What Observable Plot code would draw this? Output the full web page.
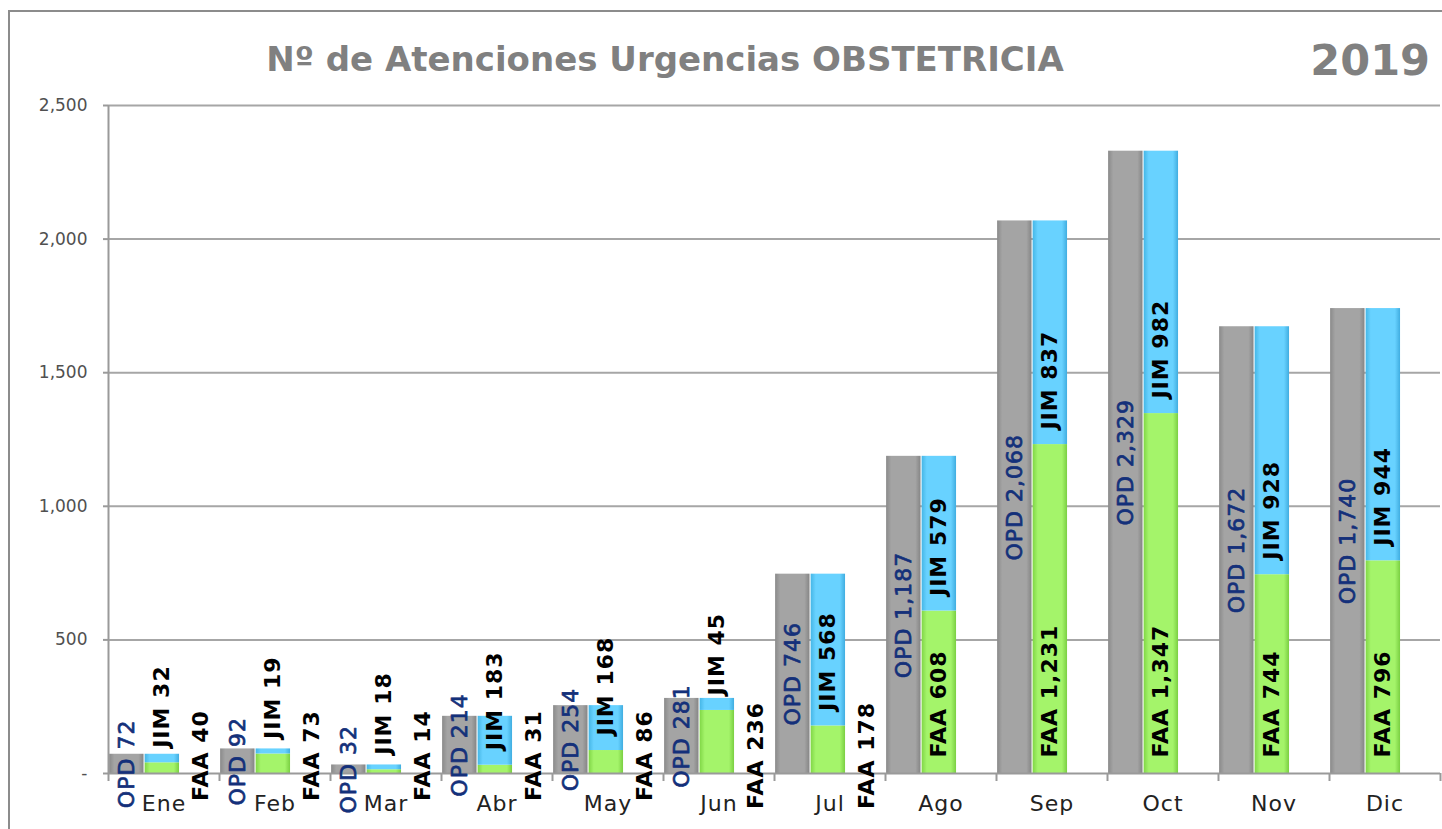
<!DOCTYPE html>
<html><head><meta charset="utf-8">
<script src="https://cdn.jsdelivr.net/npm/d3@7"></script>
<script src="https://cdn.jsdelivr.net/npm/@observablehq/plot@0.6"></script>
<style>
html,body{margin:0;padding:0;background:#fff;overflow:hidden;width:1442px;height:829px;font-family:"DejaVu Sans",sans-serif}
#frame{position:absolute;left:8px;top:10px;width:1500px;height:900px;border:2px solid #8c8c8c;box-sizing:border-box}
#title{position:absolute;left:0;width:1330px;top:42px;text-align:center;font-weight:bold;font-size:34px;line-height:34px;color:#808080;white-space:nowrap}
#year{position:absolute;right:12px;top:39px;font-weight:bold;font-size:43px;line-height:43px;color:#808080}
#chart{position:absolute;left:0;top:0}
</style>
</head><body>
<svg width="0" height="0" style="position:absolute">
  <defs>
    <linearGradient id="gGray" x1="0" x2="1" y1="0" y2="0">
      <stop offset="0" stop-color="#8a8a8a"/><stop offset="0.15" stop-color="#a4a4a4"/>
      <stop offset="0.85" stop-color="#a4a4a4"/><stop offset="1" stop-color="#858585"/>
    </linearGradient>
    <linearGradient id="gBlue" x1="0" x2="1" y1="0" y2="0">
      <stop offset="0" stop-color="#45b6e6"/><stop offset="0.15" stop-color="#68d2ff"/>
      <stop offset="0.85" stop-color="#68d2ff"/><stop offset="1" stop-color="#40ade0"/>
    </linearGradient>
    <linearGradient id="gGreen" x1="0" x2="1" y1="0" y2="0">
      <stop offset="0" stop-color="#80d646"/><stop offset="0.15" stop-color="#a4f46a"/>
      <stop offset="0.85" stop-color="#a4f46a"/><stop offset="1" stop-color="#7acf42"/>
    </linearGradient>
  </defs>
</svg>
<div id="frame"></div>
<div id="title">Nº de Atenciones Urgencias OBSTETRICIA</div>
<div id="year">2019</div>
<div id="chart"></div>
<script>
const months = ["Ene","Feb","Mar","Abr","May","Jun","Jul","Ago","Sep","Oct","Nov","Dic"];
const OPD = [72, 92, 32, 214, 254, 281, 746, 1187, 2068, 2329, 1672, 1740];
const JIM = [32, 19, 18, 183, 168, 45, 568, 579, 837, 982, 928, 944];
const FAA = [40, 73, 14, 31, 86, 236, 178, 608, 1231, 1347, 744, 796];
const yTicks = [0, 500, 1000, 1500, 2000, 2500];

const rows = months.map((m, i) => ({i, month: m, opd: OPD[i], jim: JIM[i], faa: FAA[i]}));
const fmt = d3.format(",");
const navy = "#14307a";
const FONT = "DejaVu Sans";
const insideMin = 400; // FAA label fits inside the green segment above this value

const chart = Plot.plot({
  width: 1442,
  height: 829,
  marginTop: 105,
  marginBottom: 56,
  marginLeft: 108,
  marginRight: 2,
  style: {fontFamily: FONT, background: "transparent"},
  x: {domain: [0, 12]},
  y: {domain: [0, 2500]},
  marks: [
    Plot.ruleY(yTicks.filter(d => d > 0), {stroke: "#a6a6a6", strokeWidth: 2}),
    Plot.rectY(rows, {x1: d => d.i + 0.01, x2: d => d.i + 0.32, y1: 0, y2: "opd", fill: "url(#gGray)"}),
    Plot.rectY(rows, {x1: d => d.i + 0.33, x2: d => d.i + 0.64, y1: 0, y2: "faa", fill: "url(#gGreen)"}),
    Plot.rectY(rows, {x1: d => d.i + 0.33, x2: d => d.i + 0.64, y1: "faa", y2: d => d.faa + d.jim, fill: "url(#gBlue)"}),
    Plot.ruleY([0], {stroke: "#9a9a9a", strokeWidth: 2}),
    Plot.ruleX([0], {stroke: "#9a9a9a", strokeWidth: 2}),
    Plot.axisX(d3.range(13), {tickSize: 8, tickFormat: () => "", stroke: "#9a9a9a", strokeWidth: 2}),
    Plot.axisY(yTicks, {tickSize: 5, tickPadding: 16, tickFormat: d => d === 0 ? "-" : fmt(d), stroke: "#9a9a9a", strokeWidth: 2, fill: "#505050", fontSize: 17, label: null}),
    Plot.text(rows, {x: d => d.i + 0.5, y: 0, dy: 30, text: "month", fontSize: 22, fill: "#222", lineAnchor: "middle", className: "sp"}),
    // OPD labels
    Plot.text(rows, {x: d => d.i + 0.165, y: d => d.opd / 2, text: d => "OPD " + fmt(d.opd), rotate: -90, textAnchor: "middle", lineAnchor: "middle", fill: navy, stroke: navy, strokeWidth: 0.7, fontSize: 22, className: "sp"}),
    // JIM labels
    Plot.text(rows, {x: d => d.i + 0.485, y: "faa", dy: -15, text: d => "JIM " + fmt(d.jim), rotate: -90, textAnchor: "start", lineAnchor: "middle", fill: "#000", fontWeight: "bold", fontSize: 22, className: "sp"}),
    // FAA labels inside
    Plot.text(rows.filter(d => d.faa >= insideMin), {x: d => d.i + 0.485, y: 0, dy: -16, text: d => "FAA " + fmt(d.faa), rotate: -90, textAnchor: "start", lineAnchor: "middle", fill: "#000", fontWeight: "bold", fontSize: 22, className: "sp"}),
    // FAA labels outside
    Plot.text(rows.filter(d => d.faa < insideMin), {x: d => d.i + 0.83, y: 0, dy: -18, text: d => "FAA " + fmt(d.faa), rotate: -90, textAnchor: "middle", lineAnchor: "middle", fill: "#000", fontWeight: "bold", fontSize: 22, className: "sp"})
  ]
});
document.getElementById("chart").appendChild(chart);
d3.select(chart).selectAll(".sp text").style("letter-spacing", "1px");
</script>
</body></html>
